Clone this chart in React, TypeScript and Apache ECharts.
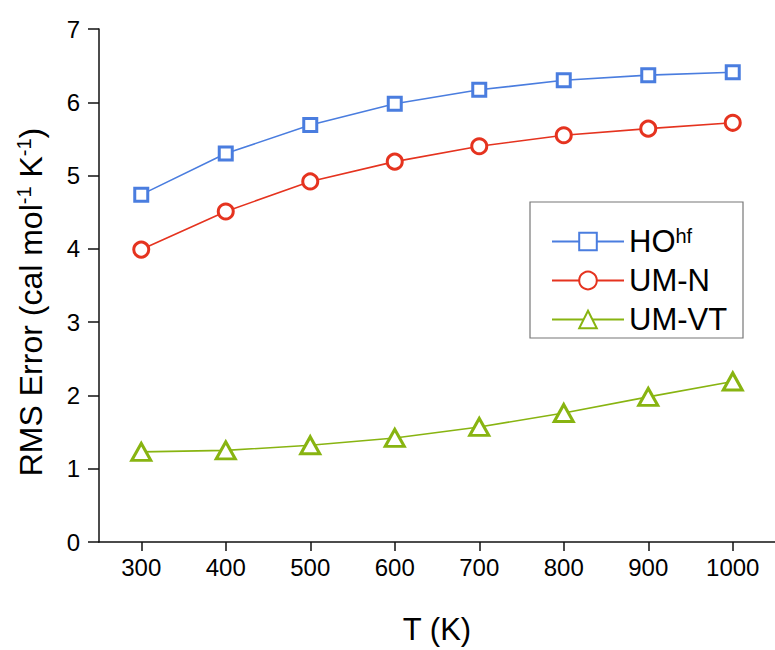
import React, { useEffect, useRef } from "react";
import * as echarts from "echarts";

const temperatures = [300, 400, 500, 600, 700, 800, 900, 1000];
const hoValues = [4.74, 5.3, 5.69, 5.98, 6.17, 6.3, 6.37, 6.41];
const umnValues = [3.99, 4.51, 4.92, 5.19, 5.4, 5.55, 5.64, 5.72];
const umvtValues = [1.23, 1.25, 1.32, 1.42, 1.57, 1.76, 1.98, 2.19];
const yTicks = [0, 1, 2, 3, 4, 5, 6, 7];
const seriesNames = ["HO", "UM-N", "UM-VT"];

const FONT = "'Liberation Sans', Arial, Helvetica, sans-serif";
const BLUE = "#4a7ddf";
const RED = "#e5331f";
const GREEN = "#88b411";

export default function App() {
  const ref = useRef<HTMLDivElement>(null);
  useEffect(() => {
    if (!ref.current) return;
    const chart = echarts.init(ref.current, undefined, { renderer: "svg" });
    const mk = (name: string, vals: number[], color: string, symbol: string, size: any) => ({
      name,
      type: "line",
      data: temperatures.map((t, i) => [t, vals[i]]),
      symbol,
      symbolSize: size,
      showAllSymbol: true,
      lineStyle: { color, width: 1.6 },
      itemStyle: { color: "#ffffff", borderColor: color, borderWidth: 3 },
      emphasis: { disabled: true },
      z: 3,
    });
    chart.setOption({
      animation: false,
      backgroundColor: "#ffffff",
      textStyle: { fontFamily: FONT },
      grid: { left: 99, right: 0, top: 29, bottom: 106, containLabel: false },
      xAxis: {
        type: "value",
        min: 250,
        max: 1050,
        name: "T (K)",
        nameLocation: "middle",
        nameGap: 72,
        nameTextStyle: { fontSize: 31, color: "#000", fontFamily: FONT },
        axisLine: { show: true, onZero: false, lineStyle: { color: "#111", width: 1.5 } },
        axisTick: { show: true, length: 9, lineStyle: { color: "#111", width: 1.5 }, customValues: temperatures },
        axisLabel: {
          fontSize: 24,
          color: "#000",
          margin: 13,
          fontFamily: FONT,
          customValues: temperatures,
          formatter: (v: number) => String(v),
        },
        splitLine: { show: false },
      },
      yAxis: {
        type: "value",
        min: 0,
        max: 7,
        interval: 1,
        axisLine: { show: true, lineStyle: { color: "#111", width: 1.5 } },
        axisTick: { show: true, length: 11, lineStyle: { color: "#111", width: 1.5 } },
        axisLabel: {
          fontSize: 24,
          color: "#000",
          margin: 19,
          fontFamily: FONT,
          formatter: (v: number) => (yTicks.includes(v) ? String(v) : ""),
        },
        splitLine: { show: false },
      },
      legend: {
        show: true,
        orient: "vertical",
        left: 551,
        top: 226,
        padding: 0,
        itemGap: 8,
        itemWidth: 72,
        itemHeight: 22,
        data: seriesNames,
        formatter: (name: string) => (name === "HO" ? "{a|HO}{b|hf}" : "{a|" + name + "}"),
        textStyle: {
          fontFamily: FONT,
          fontSize: 31,
          color: "#000",
          rich: {
            a: { fontSize: 31, lineHeight: 31, color: "#000", fontFamily: FONT },
            b: { fontSize: 20, lineHeight: 20, verticalAlign: "top", color: "#000", fontFamily: FONT },
          },
        },
      },
      graphic: [
        {
          type: "rect",
          z: 1,
          shape: { x: 530, y: 202, width: 213, height: 136 },
          style: { fill: "#ffffff", stroke: "#777777", lineWidth: 1.2 },
        },
        {
          type: "text",
          x: 31,
          y: 302,
          rotation: Math.PI / 2,
          style: {
            text: "{a|RMS Error (cal mol}{b|-1}{a| K}{b|-1}{a|)}",
            align: "center",
            verticalAlign: "middle",
            rich: {
              a: { fontSize: 32, lineHeight: 34, fill: "#000", fontFamily: FONT },
              b: { fontSize: 20, lineHeight: 20, verticalAlign: "top", fill: "#000", fontFamily: FONT },
            },
          },
        },
      ],
      series: [
        mk("HO", hoValues, BLUE, "rect", 13),
        mk("UM-N", umnValues, RED, "circle", 15),
        mk("UM-VT", umvtValues, GREEN, "triangle", [19, 17]),
      ],
    });
    return () => chart.dispose();
  }, []);
  return <div ref={ref} style={{ position: "absolute", left: 0, top: 0, width: 775, height: 650 }} />;
}
